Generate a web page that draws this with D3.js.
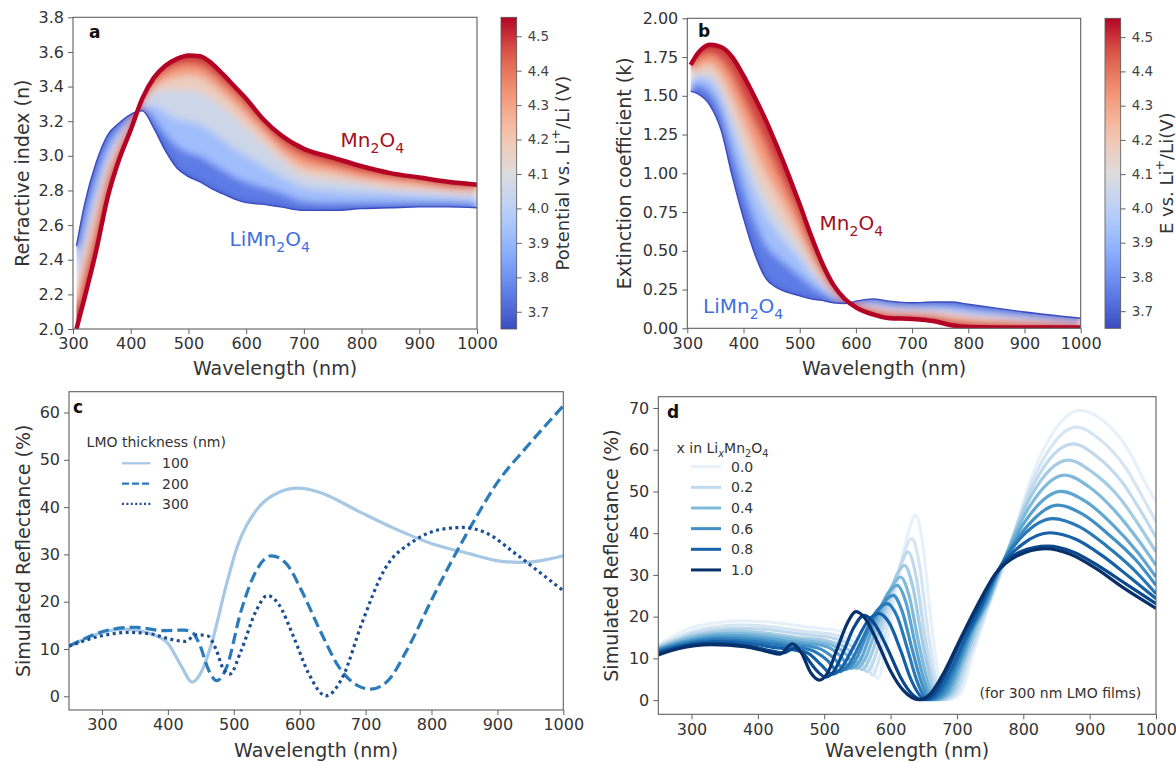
<!DOCTYPE html>
<html>
<head>
<meta charset="utf-8">
<script src="https://cdn.jsdelivr.net/npm/d3@7"></script>
<style>
  body { margin: 0; background: #fff; }
  svg { display: block; font-family: "DejaVu Sans", sans-serif; }
</style>
</head>
<body>
<svg id="fig" width="1176" height="763"></svg>
<script>
// ---------- panel a : refractive index n vs wavelength, one curve per potential (V)
var wlA = [306, 320, 340, 360, 380, 400, 420, 440, 460, 480, 500, 520, 540, 560, 580, 600, 630, 660, 700, 750, 800, 850, 900, 950, 1000];
var potA = [3.65, 3.85, 4.0, 4.1, 4.25, 4.4, 4.55];
var nA_365 = [2.48, 2.72, 2.96, 3.12, 3.19, 3.24, 3.26, 3.16, 3.03, 2.93, 2.88, 2.85, 2.81, 2.78, 2.75, 2.73, 2.72, 2.705, 2.685, 2.685, 2.695, 2.70, 2.705, 2.705, 2.70];
var nA_385 = [2.38, 2.61, 2.86, 3.05, 3.15, 3.22, 3.28, 3.22, 3.13, 3.06, 3.02, 3.00, 2.96, 2.92, 2.88, 2.85, 2.82, 2.79, 2.74, 2.73, 2.73, 2.73, 2.73, 2.73, 2.72];
var nA_400 = [2.30, 2.52, 2.77, 2.98, 3.11, 3.21, 3.29, 3.29, 3.25, 3.21, 3.20, 3.18, 3.14, 3.09, 3.04, 3.00, 2.94, 2.88, 2.82, 2.80, 2.79, 2.78, 2.77, 2.76, 2.75];
var nA_410 = [2.24, 2.45, 2.71, 2.94, 3.09, 3.20, 3.30, 3.37, 3.38, 3.38, 3.38, 3.37, 3.33, 3.28, 3.22, 3.16, 3.07, 2.98, 2.89, 2.86, 2.84, 2.81, 2.80, 2.79, 2.78];
var nA_425 = [2.16, 2.36, 2.62, 2.88, 3.05, 3.18, 3.31, 3.40, 3.44, 3.46, 3.47, 3.46, 3.42, 3.36, 3.30, 3.23, 3.13, 3.03, 2.94, 2.91, 2.87, 2.85, 2.83, 2.81, 2.80];
var nA_440 = [2.08, 2.27, 2.53, 2.82, 3.01, 3.16, 3.32, 3.43, 3.49, 3.52, 3.53, 3.52, 3.48, 3.42, 3.36, 3.29, 3.18, 3.08, 3.00, 2.95, 2.91, 2.88, 2.86, 2.83, 2.82];
var nA_455 = [2.00, 2.18, 2.45, 2.76, 2.98, 3.15, 3.33, 3.45, 3.52, 3.56, 3.58, 3.575, 3.535, 3.47, 3.40, 3.33, 3.21, 3.12, 3.04, 2.99, 2.94, 2.90, 2.875, 2.85, 2.833];

// ---------- panel b : extinction coefficient k
var wlB = [306, 320, 340, 360, 380, 400, 420, 440, 460, 480, 500, 520, 540, 560, 580, 600, 630, 660, 700, 740, 770, 800, 850, 900, 1000];
var potB = [3.65, 3.85, 4.0, 4.1, 4.25, 4.4, 4.55];
var kB_365 = [1.53, 1.51, 1.44, 1.28, 0.98, 0.71, 0.48, 0.32, 0.26, 0.23, 0.21, 0.19, 0.18, 0.165, 0.16, 0.175, 0.19, 0.175, 0.165, 0.17, 0.17, 0.155, 0.13, 0.105, 0.065];
var kB_385 = [1.57, 1.57, 1.53, 1.40, 1.15, 0.91, 0.70, 0.54, 0.46, 0.40, 0.34, 0.28, 0.23, 0.19, 0.167, 0.166, 0.168, 0.151, 0.142, 0.142, 0.137, 0.123, 0.102, 0.083, 0.052];
var kB_400 = [1.60, 1.62, 1.60, 1.49, 1.29, 1.08, 0.88, 0.73, 0.62, 0.53, 0.45, 0.35, 0.28, 0.21, 0.172, 0.159, 0.15, 0.131, 0.123, 0.12, 0.11, 0.096, 0.08, 0.065, 0.041];
var kB_410 = [1.62, 1.65, 1.64, 1.56, 1.38, 1.19, 1.00, 0.85, 0.73, 0.63, 0.52, 0.40, 0.30, 0.225, 0.176, 0.154, 0.138, 0.118, 0.11, 0.105, 0.092, 0.079, 0.065, 0.053, 0.034];
var kB_425 = [1.65, 1.69, 1.71, 1.64, 1.50, 1.34, 1.17, 1.01, 0.88, 0.75, 0.61, 0.47, 0.34, 0.24, 0.18, 0.148, 0.122, 0.10, 0.094, 0.085, 0.068, 0.055, 0.045, 0.037, 0.024];
var kB_440 = [1.67, 1.74, 1.77, 1.73, 1.63, 1.48, 1.33, 1.18, 1.02, 0.87, 0.71, 0.53, 0.38, 0.26, 0.185, 0.141, 0.106, 0.083, 0.077, 0.065, 0.044, 0.032, 0.025, 0.021, 0.015];
var kB_455 = [1.70, 1.78, 1.83, 1.815, 1.75, 1.63, 1.49, 1.34, 1.17, 0.99, 0.80, 0.60, 0.42, 0.28, 0.19, 0.135, 0.09, 0.065, 0.06, 0.045, 0.02, 0.008, 0.005, 0.005, 0.005];

// ---------- panel c : simulated reflectance vs LMO thickness, [wavelength, R%]
var thickC = ["100", "200", "300"];
var rC_100 = [[250,10.6],[300,13.5],[334,14.2],[374,13.2],[400,11.2],[420,6.5],[437,3.0],[452,5.5],[466,11],[489,23.7],[505,31.5],[534,39.3],[568,43.1],[597,44],[631,43.1],[688,39.2],[745,35.4],[802,32.2],[859,30.1],[899,28.7],[933,28.3],[967,28.7],[1000,29.7]];
var rC_200 = [[250,10.6],[317,14.2],[351,14.6],[391,13.9],[425,14.0],[437,13.5],[448,11],[462,5.5],[474,3.3],[489,6.1],[511,18],[534,26.5],[557,29.7],[580,28],[603,22.3],[631,13.9],[660,6.1],[688,2.25],[708,1.5],[734,3.3],[762,9.6],[802,20.9],[831,28.7],[865,37.2],[899,45],[945,52.8],[1000,61.4]];
var rC_300 = [[250,10.6],[300,12.8],[340,13.5],[374,13.2],[403,12.1],[426,11.6],[443,13.0],[460,12.8],[474,9.6],[483,6.1],[494,4.7],[511,9.6],[534,18.1],[551,21.3],[568,19.5],[591,12.5],[614,4.7],[640,0.1],[665,4],[694,15.3],[728,26.6],[774,32.9],[819,35.4],[848,35.7],[882,34.6],[928,30.1],[968,25.8],[1000,22.3]];

// ---------- panel d : reflectance of 300 nm films for x in LixMn2O4
var xD = [0.0, 0.1, 0.2, 0.3, 0.4, 0.5, 0.6, 0.7, 0.8, 0.9, 1.0];
var legendD = ["0.0", "0.2", "0.4", "0.6", "0.8", "1.0"];
var rD_00 = [[250,13.2],[310,17.8],[380,19.0],[430,18.5],[475,17.5],[525,16.5],[562,13],[581,5.2],[591,11],[610,28],[628,41],[638,44.3],[648,38],[661,19],[674,4.5],[686,0.1],[705,1.5],[724,11],[742,19.5],[756,26],[766,30],[820,56.5],[885,69.4],[920,67],[958,60],[984,52],[1000,47.5]];
var rD_01 = [[250,13.0],[310,16.8],[375,18.0],[425,17.5],[470,16.5],[520,15.5],[555,12.5],[573,6],[584,10.5],[604,25],[622,36],[632,38.7],[643,33],[656,17],[669,4.5],[681,0.1],[700,1.5],[720,10.5],[739,19],[754,25.5],[765,30],[818,54],[880,65.4],[915,62.5],[955,55.5],[982,48],[1000,42.7]];
var rD_02 = [[250,12.8],[305,16.0],[370,17.2],[420,16.8],[465,15.8],[515,14.8],[548,12],[565,6.8],[577,10.5],[598,23.5],[617,33],[626,35.5],[638,30],[651,16],[665,4.5],[677,0.1],[696,1.5],[716,10],[736,18.5],[752,25],[764,30],[815,51.5],[875,61.4],[910,58.5],[950,52],[980,44.5],[1000,39]];
var rD_03 = [[250,12.6],[305,15.5],[365,16.6],[415,16.0],[460,15.0],[510,14.0],[540,11.5],[557,7.3],[570,10.5],[592,22],[611,30.5],[621,32.3],[633,27.5],[647,15],[661,4.5],[673,0.1],[692,1.5],[712,9.5],[732,18],[750,24.5],[763,30],[812,49],[868,57.5],[905,54.5],[945,48.5],[978,41],[1000,35.5]];
var rD_04 = [[250,12.4],[300,15.0],[360,16.0],[410,15.5],[455,14.5],[505,13.5],[533,11],[549,7.6],[562,10],[585,20.5],[605,28],[615,29.5],[628,25],[642,14],[656,4.5],[669,0.1],[688,1.5],[708,9],[728,17.5],[748,24],[762,30],[810,46.5],[862,53.9],[900,51],[940,45],[975,38],[1000,32.3]];
var rD_05 = [[250,12.2],[300,14.5],[355,15.5],[405,15.0],[450,14.0],[500,13.0],[525,10.5],[540,7.6],[554,9.5],[577,19],[598,26],[610,27.5],[623,23.5],[637,13.5],[651,4.5],[665,0.1],[684,1.5],[704,8.5],[724,17],[745,23.5],[761,30],[808,44],[857,50],[895,47.5],[935,42],[972,35.5],[1000,29.5]];
var rD_06 = [[250,12.0],[295,14.0],[350,15.0],[400,14.5],[445,13.5],[490,12.5],[515,10.0],[531,7.3],[545,9],[568,17],[590,23.5],[604,25.1],[617,21.5],[632,12.5],[646,4.5],[661,0.1],[680,1.5],[700,8],[720,16],[742,23],[760,30],[805,41.5],[852,46.7],[890,44.5],[930,39.5],[970,33.5],[1000,27.5]];
var rD_07 = [[250,11.8],[290,13.5],[345,14.5],[395,14.0],[440,13.0],[480,12.0],[505,9.5],[522,6.8],[537,8.5],[560,15.5],[580,21.5],[595,23.1],[610,20],[625,12.5],[640,4.5],[657,0.1],[675,1.5],[695,7.5],[715,15],[738,22.5],[759,30],[800,39.5],[845,43.5],[885,41.5],[925,37],[965,31.5],[1000,25.5]];
var rD_08 = [[250,11.5],[285,13.0],[340,14.0],[390,13.5],[430,12.5],[455,12.0],[475,11.3],[495,8.5],[512,6.2],[525,7.5],[545,13],[565,18.8],[582,20.8],[598,18.5],[615,12],[632,4.5],[653,0.1],[670,1.5],[690,7],[710,14],[735,22],[758,30],[800,37.5],[840,40.1],[880,38.5],[920,34.5],[960,29.5],[1000,24.3]];
var rD_09 = [[250,11.2],[280,12.6],[335,13.6],[385,13.0],[420,11.8],[438,11.3],[455,12.4],[470,10.8],[488,7.2],[502,5.5],[515,7.0],[530,12.0],[545,17.5],[560,20.3],[575,18.5],[595,12.5],[615,5.5],[632,1.5],[648,0.1],[665,1.5],[685,7],[705,14],[730,21.5],[757,30],[795,35.5],[837,36.9],[875,35.5],[915,32],[955,27.8],[1000,23.1]];
var rD_10 = [[250,10.8],[280,12.3],[330,13.3],[380,12.8],[415,11.6],[433,11.0],[452,13.5],[465,11.5],[480,6.5],[493,4.8],[505,6.5],[520,12.5],[535,18.5],[548,21.2],[562,19.5],[580,14],[600,7],[620,2.2],[643,0.1],[660,1.5],[680,6.5],[700,13],[730,22.5],[757,30],[790,34.5],[834,36.3],[870,35],[910,31.5],[950,27],[1000,22]];

// ---------- tick labels
var ticksA_y = [2.0, 2.2, 2.4, 2.6, 2.8, 3.0, 3.2, 3.4, 3.6, 3.8];
var ticksB_y = [0, 0.25, 0.5, 0.75, 1.0, 1.25, 1.5, 1.75, 2.0];
var ticksAB_x = [300, 400, 500, 600, 700, 800, 900, 1000];
var ticksCD_x = [300, 400, 500, 600, 700, 800, 900, 1000];
var ticksC_y = [0, 10, 20, 30, 40, 50, 60];
var ticksD_y = [0, 10, 20, 30, 40, 50, 60, 70];
var ticksBar = [3.7, 3.8, 3.9, 4.0, 4.1, 4.2, 4.3, 4.4, 4.5];

var svg = d3.select("#fig");
svg.append("rect").attr("width", 1176).attr("height", 763).attr("fill", "#fff");
var defs = svg.append("defs");

var filt = defs.append("filter").attr("id", "soft")
  .attr("x", "-5%").attr("y", "-5%").attr("width", "110%").attr("height", "110%");
filt.append("feGaussianBlur").attr("stdDeviation", 3.5);

var coolwarm = d3.piecewise(d3.interpolateRgb,
  ["#3b4cc0", "#6282ea", "#8db0fe", "#b8d0f9", "#dddcdc", "#f5c4ac", "#f4987a", "#de604d", "#b40426"]);
var potNorm = d3.scaleLinear().domain([3.65, 4.555]).range([0, 1]).clamp(true);

var TXT = "#333", SPINE = "#606060";

// coordinates of each axes box, in pixels
var A = { x: d3.scaleLinear([300, 1000], [73, 477]),     y: d3.scaleLinear([2.0, 3.8], [329, 17.3]) };
var B = { x: d3.scaleLinear([300, 1000], [687.3, 1080.7]), y: d3.scaleLinear([0, 2], [328.3, 18.3]) };
var C = { x: d3.scaleLinear([250, 1000], [69, 563.3]),   y: d3.scaleLinear([-2.9, 64.4], [710, 391.7]) };
var D = { x: d3.scaleLinear([250, 1000], [658.3, 1156]), y: d3.scaleLinear([-3.4, 72.7], [714.3, 396.7]) };

function richText(sel, parts, size) {
  var shift = 0;
  parts.forEach(function(p) {
    var t = sel.append("tspan").text(p[0]);
    var target = p[1] == "sub" ? size * 0.3 : p[1] == "sup" ? -size * 0.4 : 0;
    t.attr("dy", target - shift);
    shift = target;
    if (p[1]) t.attr("font-size", size * 0.7);
    if (p[2]) t.attr("font-style", "italic");
  });
}

function frame(P, id, xt, yt, yfmt, xlab, ylab, ylabX, xlabY) {
  var g = svg.append("g");
  var x0 = P.x.range()[0], x1 = P.x.range()[1], y0 = P.y.range()[0], y1 = P.y.range()[1];
  defs.append("clipPath").attr("id", id).append("rect")
    .attr("x", x0).attr("y", y1).attr("width", x1 - x0).attr("height", y0 - y1);

  var ax = g.append("g").attr("transform", "translate(0," + y0 + ")")
    .call(d3.axisBottom(P.x).tickValues(xt).tickSize(5).tickPadding(4).tickFormat(d3.format("d")));
  var ay = g.append("g").attr("transform", "translate(" + x0 + ",0)")
    .call(d3.axisLeft(P.y).tickValues(yt).tickSize(5).tickPadding(4).tickFormat(d3.format(yfmt)));
  [ax, ay].forEach(function(a) {
    a.select(".domain").remove();
    a.attr("font-size", 16).attr("font-family", "DejaVu Sans");
    a.selectAll(".tick line").attr("stroke", SPINE);
    a.selectAll(".tick text").attr("fill", TXT);
  });
  g.append("text").attr("x", (x0 + x1) / 2).attr("y", xlabY).attr("text-anchor", "middle")
    .attr("dominant-baseline", "central").attr("font-size", 19).attr("fill", TXT).text(xlab);
  g.append("text").attr("transform", "translate(" + ylabX + "," + (y0 + y1) / 2 + ") rotate(-90)")
    .attr("text-anchor", "middle").attr("dominant-baseline", "central")
    .attr("font-size", 19).attr("fill", TXT).text(ylab);
  return g;
}

function spine(P) {
  var x0 = P.x.range()[0], x1 = P.x.range()[1], y0 = P.y.range()[0], y1 = P.y.range()[1];
  svg.append("rect").attr("x", x0).attr("y", y1).attr("width", x1 - x0).attr("height", y0 - y1)
    .attr("fill", "none").attr("stroke", SPINE).attr("stroke-width", 1.1);
}

function panelLabel(t, x, y) {
  svg.append("text").attr("x", x).attr("y", y).attr("font-size", 17).attr("font-weight", "bold")
    .attr("fill", "#111").text(t);
}

// filled band of curves for panels a and b
function bands(P, id, wl, curves, pots) {
  var lo = curves[0], hi = curves[curves.length - 1];
  var env = d3.area().curve(d3.curveMonotoneX)
    .x(function(d, i) { return P.x(wl[i]); })
    .y0(function(d, i) { return P.y(lo[i]); })
    .y1(function(d, i) { return P.y(hi[i]); });
  defs.append("clipPath").attr("id", id + "-env").append("path").attr("d", env(wl));
  var line = d3.line().curve(d3.curveMonotoneX)
    .x(function(d, i) { return P.x(wl[i]); }).y(function(d) { return P.y(d); });

  var gOut = svg.append("g").attr("clip-path", "url(#" + id + ")");
  var gb = gOut.append("g").attr("clip-path", "url(#" + id + "-env)").append("g").attr("filter", "url(#soft)");
  [0, curves.length - 1].forEach(function(k) {
    gb.append("path").attr("d", line(curves[k])).attr("fill", "none")
      .attr("stroke", coolwarm(potNorm(pots[k]))).attr("stroke-width", 16);
  });
  for (var k = 0; k < curves.length - 1; k++) {
    var a = curves[k], b = curves[k + 1];
    var ar = d3.area().curve(d3.curveMonotoneX)
      .x(function(d, i) { return P.x(wl[i]); })
      .y0(function(d, i) { return P.y(a[i]); })
      .y1(function(d, i) { return P.y(b[i]); });
    gb.append("path").attr("d", ar(wl))
      .attr("fill", coolwarm(potNorm((pots[k] + pots[k + 1]) / 2)))
      .attr("stroke", coolwarm(potNorm((pots[k] + pots[k + 1]) / 2))).attr("stroke-width", 0.6);
  }
  gOut.append("path").attr("d", line(lo)).attr("fill", "none")
    .attr("stroke", coolwarm(potNorm(pots[0]))).attr("stroke-width", 1.4);
  gOut.append("path").attr("d", line(hi)).attr("fill", "none")
    .attr("stroke", "#b40426").attr("stroke-width", 4.5).attr("stroke-linejoin", "round");
}

function colorbar(id, x0, y0, y1, labelParts, labX) {
  var grad = defs.append("linearGradient").attr("id", id)
    .attr("x1", 0).attr("y1", 1).attr("x2", 0).attr("y2", 0);
  d3.range(0, 1.0001, 0.05).forEach(function(t) {
    grad.append("stop").attr("offset", t).attr("stop-color", coolwarm(t));
  });
  var w = 15.7;
  svg.append("rect").attr("x", x0).attr("y", y1).attr("width", w).attr("height", y0 - y1)
    .attr("fill", "url(#" + id + ")").attr("stroke", "#555").attr("stroke-width", 0.8);
  var s = d3.scaleLinear([3.65, 4.555], [y0, y1]);
  var ga = svg.append("g").attr("transform", "translate(" + (x0 + w) + ",0)")
    .call(d3.axisRight(s).tickValues(ticksBar).tickSize(5).tickPadding(6).tickFormat(d3.format(".1f")));
  ga.select(".domain").remove();
  ga.attr("font-size", 13.5).attr("font-family", "DejaVu Sans");
  ga.selectAll(".tick line").attr("stroke", SPINE);
  ga.selectAll(".tick text").attr("fill", "#444");
  var t = svg.append("text").attr("transform", "translate(" + labX + "," + (y0 + y1) / 2 + ") rotate(-90)")
    .attr("text-anchor", "middle").attr("dominant-baseline", "central")
    .attr("font-size", 18).attr("fill", TXT);
  richText(t, labelParts, 18);
}

// ================= panel a
frame(A, "clipA", ticksAB_x, ticksA_y, ".1f", "Wavelength (nm)", "Refractive index (n)", 22, 368);
bands(A, "clipA", wlA, [nA_365, nA_385, nA_400, nA_410, nA_425, nA_440, nA_455], potA);
spine(A);
panelLabel("a", 89, 37.5);
richText(svg.append("text").attr("x", 340.6).attr("y", 147).attr("font-size", 20).attr("fill", "#a50f20"),
  [["Mn"], ["2", "sub"], ["O"], ["4", "sub"]], 20);
richText(svg.append("text").attr("x", 229.6).attr("y", 246).attr("font-size", 20).attr("fill", "#3f6fe0"),
  [["LiMn"], ["2", "sub"], ["O"], ["4", "sub"]], 20);
colorbar("cbarA", 501, 329, 17.3, [["Potential vs. Li"], ["+", "sup"], ["/Li (V)"]], 562);

// ================= panel b
frame(B, "clipB", ticksAB_x, ticksB_y, ".2f", "Wavelength (nm)", "Extinction coefficient (k)", 624, 368);
bands(B, "clipB", wlB, [kB_365, kB_385, kB_400, kB_410, kB_425, kB_440, kB_455], potB);
spine(B);
panelLabel("b", 698, 37);
richText(svg.append("text").attr("x", 819.6).attr("y", 230).attr("font-size", 20).attr("fill", "#a50f20"),
  [["Mn"], ["2", "sub"], ["O"], ["4", "sub"]], 20);
richText(svg.append("text").attr("x", 703).attr("y", 313).attr("font-size", 20).attr("fill", "#3f6fe0"),
  [["LiMn"], ["2", "sub"], ["O"], ["4", "sub"]], 20);
colorbar("cbarB", 1105, 328.3, 18.3, [["E vs. Li"], ["+", "sup"], ["/Li(V)"]], 1166);

// ================= panel c
frame(C, "clipC", ticksCD_x, ticksC_y, "d", "Wavelength (nm)", "Simulated Reflectance (%)", 22.6, 750);
var lineC = d3.line().curve(d3.curveMonotoneX)
  .x(function(d) { return C.x(d[0]); }).y(function(d) { return C.y(d[1]); });
var seriesC = [
  { data: rC_100, color: "#a6c8e4", dash: null },
  { data: rC_200, color: "#2b7bba", dash: "11,5" },
  { data: rC_300, color: "#1c4e94", dash: "3,3.5" }
];
var gC = svg.append("g").attr("clip-path", "url(#clipC)");
seriesC.forEach(function(s) {
  gC.append("path").attr("d", lineC(s.data)).attr("fill", "none")
    .attr("stroke", s.color).attr("stroke-width", 3.2).attr("stroke-dasharray", s.dash);
});
spine(C);
panelLabel("c", 73, 412.5);
svg.append("text").attr("x", 86.6).attr("y", 447).attr("font-size", 14).attr("fill", TXT).text("LMO thickness (nm)");
seriesC.forEach(function(s, i) {
  var yy = 463.3 + i * 20.3;
  svg.append("line").attr("x1", 122).attr("x2", 150.5).attr("y1", yy).attr("y2", yy)
    .attr("stroke", s.color).attr("stroke-width", 2.2)
    .attr("stroke-dasharray", i == 1 ? "7,3" : i == 2 ? "2,2.4" : null);
  svg.append("text").attr("x", 162).attr("y", yy + 5).attr("font-size", 14).attr("fill", TXT).text(thickC[i]);
});

// ================= panel d
frame(D, "clipD", ticksCD_x, ticksD_y, "d", "Wavelength (nm)", "Simulated Reflectance (%)", 611, 750);
var curvesD = [rD_00, rD_01, rD_02, rD_03, rD_04, rD_05, rD_06, rD_07, rD_08, rD_09, rD_10];
function colD(xv) { return d3.interpolateBlues(0.08 + 0.92 * xv); }
var lineD = d3.line().curve(d3.curveMonotoneX)
  .x(function(d) { return D.x(d[0]); }).y(function(d) { return D.y(d[1]); });
var gD = svg.append("g").attr("clip-path", "url(#clipD)");
curvesD.forEach(function(c, k) {
  gD.append("path").attr("d", lineD(c)).attr("fill", "none")
    .attr("stroke", colD(xD[k])).attr("stroke-width", 3.2).attr("stroke-linejoin", "round");
});
spine(D);
panelLabel("d", 667, 418);
richText(svg.append("text").attr("x", 676.6).attr("y", 452.5).attr("font-size", 14).attr("fill", TXT),
  [["x in Li"], ["x", "sub", true], ["Mn"], ["2", "sub"], ["O"], ["4", "sub"]], 14);
legendD.forEach(function(lab, i) {
  var yy = 466.7 + i * 20.65;
  svg.append("line").attr("x1", 691).attr("x2", 721).attr("y1", yy).attr("y2", yy)
    .attr("stroke", colD(+lab)).attr("stroke-width", 3);
  svg.append("text").attr("x", 731).attr("y", yy + 5).attr("font-size", 14).attr("fill", TXT).text(lab);
});
svg.append("text").attr("x", 979.5).attr("y", 698).attr("font-size", 14).attr("fill", TXT)
  .text("(for 300 nm LMO films)");
</script>
</body>
</html>
